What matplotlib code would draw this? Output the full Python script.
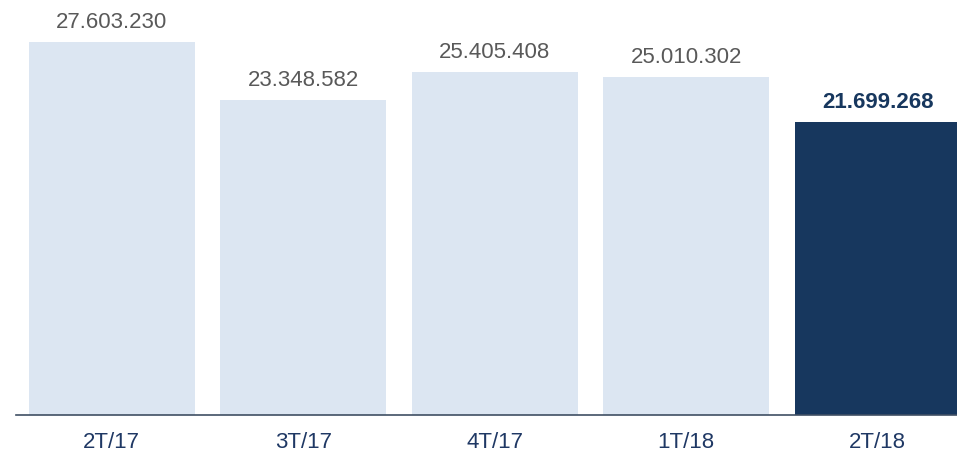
import matplotlib.pyplot as plt

# values per quarter
quarters = ['2T/17', '3T/17', '4T/17', '1T/18', '2T/18']
values = [27603230, 23348582, 25405408, 25010302, 21699268]
labels = ['27.603.230', '23.348.582', '25.405.408', '25.010.302', '21.699.268']

LIGHT = '#DCE6F2'
DARK = '#17375E'

plt.rcParams['font.family'] = ['Liberation Sans', 'DejaVu Sans']

fig = plt.figure(figsize=(9.57, 4.54), dpi=100)
ax = fig.add_axes([16 / 957, 39 / 454, 957.5 / 957, 405 / 454])

colors = [LIGHT] * (len(values) - 1) + [DARK]
x = list(range(len(values)))
ax.bar(x, values, width=0.867, color=colors)

for i, (v, lab) in enumerate(zip(values, labels)):
    last = i == len(values) - 1
    ax.annotate(lab, (i, v), xytext=(0, 6.5), textcoords='offset points',
                ha='center', va='bottom', fontsize=16,
                color=DARK if last else '#595959',
                fontweight='bold' if last else 'normal')

ax.set_xlim(-0.5, 4.5)
ax.set_ylim(0, 30000000)
ax.set_xticks(x)
ax.set_xticklabels(quarters, fontsize=16, color='#1F3864')
ax.tick_params(axis='x', length=0, pad=12.5)
ax.set_yticks([])
for s in ['top', 'right', 'left']:
    ax.spines[s].set_visible(False)
ax.spines['bottom'].set_color('#3F4F63')
ax.spines['bottom'].set_linewidth(1.2)

fig.savefig('out.png', dpi=100)
